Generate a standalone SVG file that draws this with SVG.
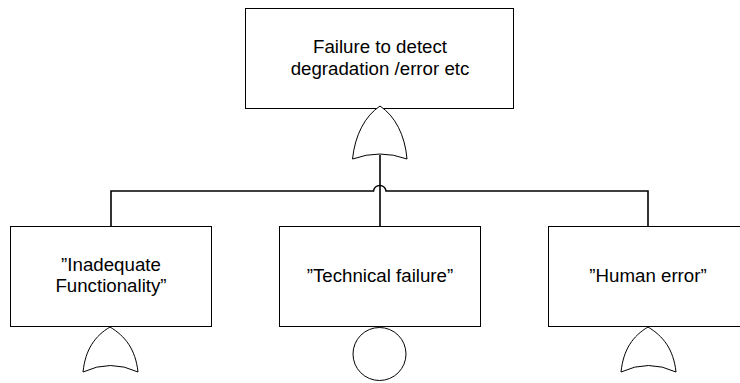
<svg xmlns="http://www.w3.org/2000/svg" width="740" height="383" viewBox="0 0 740 383">
<style>
.box{fill:#fff;stroke:#000;stroke-width:1}
.gate{fill:#fff;stroke:#000;stroke-width:1}
.conn{fill:none;stroke:#000;stroke-width:1.6}
text{font-family:"Liberation Sans",Arial,sans-serif;font-size:18.7px;fill:#000;text-anchor:middle}
</style>
<rect width="740" height="383" fill="#fff"/>
<g id="connectors">
<path class="conn" d="M111,227 V191 H373.5 A6.3,6.3 0 0 1 386,191 H648 V227"/>
<path class="conn" d="M380,155 V227"/>
</g>
<g id="top">
<rect class="box" x="245.5" y="8.5" width="268" height="100"/>
<text x="380" y="53">Failure to detect</text>
<text x="380" y="75">degradation /error etc</text>
<path class="gate" d="M352.5,159 C355,135 365,116 380,106 C395,116 405,135 407,159 Q380,149 352.5,159 Z"/>
</g>
<g id="inadequate">
<rect class="box" x="10.5" y="226.5" width="201" height="100"/>
<text x="111" y="271">”Inadequate</text>
<text x="111" y="292">Functionality”</text>
<path class="gate" d="M83,372 C85.5,349 95,336 110,327 C125,336 135.5,349 138,372 Q110.5,359 83,372 Z"/>
</g>
<g id="technical">
<rect class="box" x="279.5" y="226.5" width="201" height="100"/>
<text x="380" y="282">”Technical failure”</text>
<circle class="gate" cx="379.5" cy="354" r="26.5"/>
</g>
<g id="human">
<rect class="box" x="548.5" y="226.5" width="201" height="100"/>
<text x="648" y="282">”Human error”</text>
<path class="gate" d="M621,372 C623.5,349 633,336 648,327 C663,336 673.5,349 676,372 Q648.5,359 621,372 Z"/>
</g>
</svg>
